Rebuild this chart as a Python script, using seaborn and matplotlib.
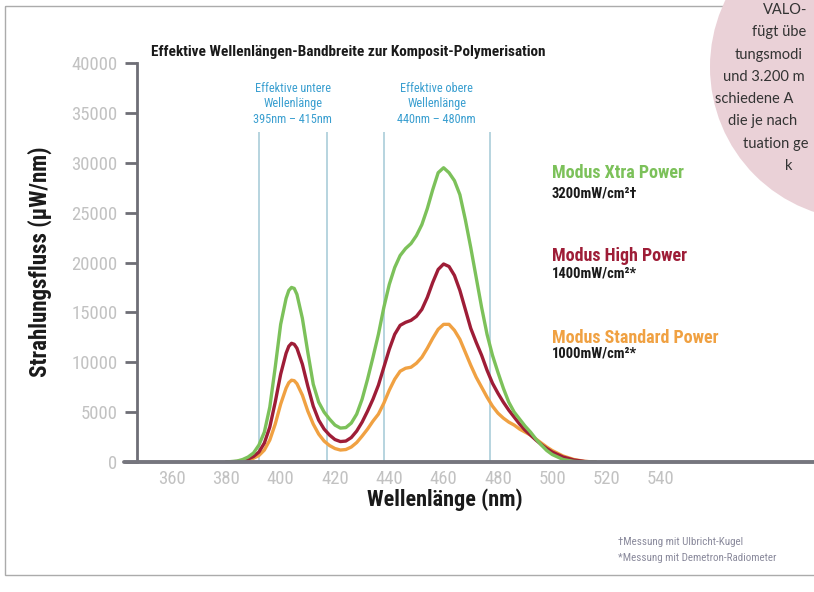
import matplotlib
matplotlib.use("Agg")
import matplotlib.pyplot as plt
import pandas as pd
import seaborn as sns
from matplotlib.patches import Circle, Rectangle
from matplotlib import font_manager

# --- data ---
wavelength = [380, 384, 386, 388, 390, 392, 394, 396, 398, 400, 402, 403, 404, 405, 406, 408, 410,
              412, 414, 416, 418, 420, 422, 424, 426, 428, 430, 432, 434, 436, 438, 440,
              442, 444, 446, 448, 450, 452, 454, 456, 458, 460, 462, 464, 466, 468, 470,
              472, 474, 476, 478, 480, 482, 484, 486, 488, 490, 492, 494, 496, 498, 500,
              504, 508, 512, 516]

xtra_power = [0, 100, 250, 500, 900, 1700, 3000, 5500, 9500, 13800, 16400, 17200, 17500, 17400, 16800, 14400, 11000,
              7800, 6000, 5000, 4300, 3700, 3400, 3450, 3900, 4800, 6300, 8300, 10500, 12800, 15500, 17800,
              19500, 20700, 21400, 21900, 22700, 23800, 25400, 27300, 29000, 29500, 29000, 28200, 26800, 24300, 21500,
              18500, 15500, 12800, 10700, 9000, 7400, 6000, 5000, 4300, 3600, 3000, 2300, 1700, 1150, 750,
              250, 60, 0, 0]

high_power = [0, 50, 150, 300, 550, 1000, 1900, 3500, 6000, 8800, 10900, 11600, 11900, 11800, 11400, 9800, 7600,
              5600, 4200, 3300, 2700, 2250, 2050, 2100, 2450, 3100, 4000, 5100, 6300, 7700, 9500, 11300,
              12800, 13700, 14000, 14200, 14600, 15300, 16500, 18000, 19300, 19850, 19600, 18700, 17200, 15300, 13400,
              12000, 10700, 9200, 7900, 6900, 6000, 5200, 4500, 3800, 3200, 2700, 2200, 1750, 1350, 1000,
              500, 200, 50, 0]

standard_power = [0, 20, 80, 200, 380, 650, 1200, 2200, 3800, 5800, 7400, 7950, 8200, 8150, 7850, 6700, 5100,
                  3800, 2800, 2100, 1650, 1350, 1200, 1250, 1500, 1950, 2600, 3300, 4100, 4800, 5900, 7200,
                  8300, 9100, 9400, 9500, 9900, 10500, 11400, 12400, 13300, 13800, 13800, 13200, 12300, 11000, 9700,
                  8500, 7500, 6500, 5600, 4900, 4400, 4000, 3700, 3300, 3000, 2700, 2300, 1900, 1500, 1150,
                  600, 250, 60, 0]

modes = ["Modus Xtra Power", "Modus High Power", "Modus Standard Power"]
mode_power = ["3200mW/cm²†", "1400mW/cm²*", "1000mW/cm²*"]
mode_colors = ["#7cc15a", "#9e1d37", "#f0a142"]

band_edges = [392, 417, 438, 477]
band_centers = [404.5, 457.5]
band_labels = ["Effektive untere\nWellenlänge\n395nm – 415nm",
               "Effektive obere\nWellenlänge\n440nm – 480nm"]

x_ticks = [360, 380, 400, 420, 440, 460, 480, 500, 520, 540]
y_ticks = [0, 5000, 10000, 15000, 20000, 25000, 30000, 35000, 40000]

title = "Effektive Wellenlängen-Bandbreite zur Komposit-Polymerisation"
footnotes = ["†Messung mit Ulbricht-Kugel", "*Messung mit Demetron-Radiometer"]
sidebar_lines = ["VALO-", "fügt übe", "tungsmodi", "und 3.200 m", "schiedene A",
                 "die je nach", "tuation ge", "k"]

df = pd.DataFrame({
    "Wellenlänge": wavelength * 3,
    "Strahlungsfluss": xtra_power + high_power + standard_power,
    "Modus": [modes[0]] * len(wavelength) + [modes[1]] * len(wavelength) + [modes[2]] * len(wavelength),
})

sns.set_theme(style="white")
installed = {f.name for f in font_manager.fontManager.ttflist}
narrow = [f for f in ["Roboto Condensed", "Liberation Sans Narrow", "Roboto"] if f in installed]
narrow.append("DejaVu Sans")
plt.rcParams["font.family"] = narrow

W, H = 814, 592
fig = plt.figure(figsize=(W / 100, H / 100), dpi=100)
fig.patch.set_facecolor("white")

# main plot area: x=137..814 px, y=63..462 px
ax = fig.add_axes([137 / W, (H - 462) / H, (W - 137) / W, (462 - 63) / H])
ax.set_facecolor("none")

# band marker lines
ax.vlines(band_edges, 0, 33080, color="#a3c9d6", lw=1.1, zorder=1)
for xc, lab in zip(band_centers, band_labels):
    ax.text(xc, 33700, lab, ha="center", va="bottom", fontsize=8.8,
            color="#3a9fd0", linespacing=1.25)

sns.lineplot(data=df, x="Wellenlänge", y="Strahlungsfluss", hue="Modus",
             palette=dict(zip(modes, mode_colors)), hue_order=modes[::-1],
             linewidth=2.4, legend=False, ax=ax, zorder=3)

ax.set_xlim(347.1, 596.4)
ax.set_ylim(0, 40000)
ax.set_xticks(x_ticks)
ax.set_yticks(y_ticks)
ax.set_xlabel("")
ax.set_ylabel("")

for s in ["top", "right", "bottom"]:
    ax.spines[s].set_visible(False)
ax.spines["left"].set_color("#6e6e76")
ax.spines["left"].set_linewidth(2)
ax.axhline(0, xmin=-13 / 677, xmax=1, color="#76767e", lw=2.8, clip_on=False, zorder=5)

ax.tick_params(axis="y", direction="out", length=8.5, width=2, color="#6e6e76",
               pad=5.5, labelsize=13.5, labelcolor="#c2c2c2", left=True)
ax.tick_params(axis="x", length=0, pad=6, labelsize=13.5, labelcolor="#c2c2c2")

# page overlay in pixel coordinates
page = fig.add_axes([0, 0, 1, 1], zorder=10)
page.set_xlim(0, W)
page.set_ylim(H, 0)
page.axis("off")

page.add_patch(Rectangle((5, 6), 900, 569, fill=False, ec="#ababab", lw=1))
page.add_patch(Circle((863, 67), 153, fc="#ead1d7", ec="none"))
sidebar_x = [763, 752, 735, 723, 715, 728, 743, 785]
for i, t in enumerate(sidebar_lines):
    page.text(sidebar_x[i], 10 + 22.3 * i, t, ha="left", va="center", fontsize=10.5,
              color="#333333", family=["Lato", "DejaVu Sans"])

page.text(151, 52, title, ha="left", va="center", fontsize=11, fontweight="bold", color="#1a1a1a")
page.text(40, 262, "Strahlungsfluss (µW/nm)", rotation=90, ha="center", va="center",
          fontsize=16.5, fontweight="bold", color="#1a1a1a")
page.text(445, 500, "Wellenlänge (nm)", ha="center", va="center",
          fontsize=16, fontweight="bold", color="#1a1a1a")

label_y = [(173, 193), (256, 273), (338, 354)]
for name, pw, col, (y1, y2) in zip(modes, mode_power, mode_colors, label_y):
    page.text(552, y1, name, ha="left", va="center", fontsize=13, fontweight="bold", color=col)
    page.text(552, y2, pw, ha="left", va="center", fontsize=10.5, fontweight="bold", color="#1a1a1a")

page.text(618, 542, footnotes[0], ha="left", va="center", fontsize=7.9, color="#8a8a9c")
page.text(618, 558, footnotes[1], ha="left", va="center", fontsize=7.9, color="#8a8a9c")

fig.savefig("out.png", dpi=100)
